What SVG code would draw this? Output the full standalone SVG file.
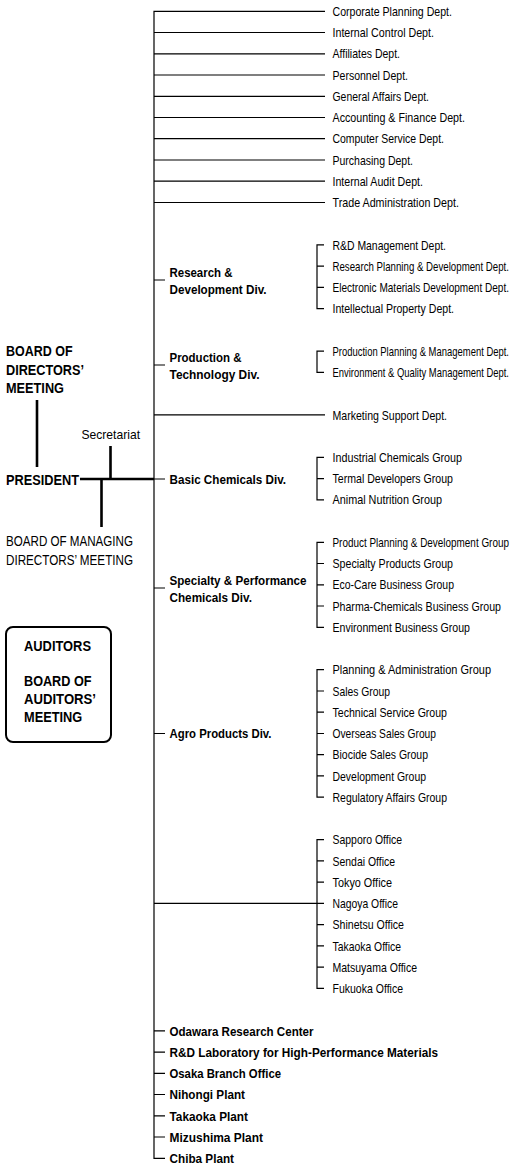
<svg xmlns="http://www.w3.org/2000/svg" width="528" height="1168" viewBox="0 0 528 1168">
<style>
.t{font-family:"Liberation Sans",Arial,sans-serif;font-size:13px;fill:#000}
.b{font-family:"Liberation Sans",Arial,sans-serif;font-size:13.5px;font-weight:bold;fill:#000}
.lb{font-family:"Liberation Sans",Arial,sans-serif;font-size:14px;font-weight:bold;fill:#000}
.lr{font-family:"Liberation Sans",Arial,sans-serif;font-size:14px;fill:#000}
.ln{stroke:#000;stroke-width:1.2;fill:none}
.thk{stroke:#000;stroke-width:2.6;fill:none}
.box{stroke:#000;stroke-width:2;fill:#fff}
</style>
<rect width="528" height="1168" fill="#fff"/>
<g id="connectors">
<path class="ln" d="M325,11.3H154V1158.3H165"/>
<path class="ln" d="M154,32.5H325M154,53.8H325M154,75H325M154,96.3H325M154,117.5H325M154,138.7H325M154,160H325M154,181.2H325M154,202.5H325M154,414.9H325M154,903.4H324"/>
<path class="ln" d="M154,280H165M154,365H165M154,479H165M154,588H165M154,733.5H165"/>
<path class="ln" d="M154,1030.8H165M154,1052.1H165M154,1073.3H165M154,1094.5H165M154,1115.8H165M154,1137H165"/>
<path class="ln" d="M324,244.9H317V308.7H324M317,266.2H324M317,287.4H324"/>
<path class="ln" d="M324,351.1H317V372.4H324"/>
<path class="ln" d="M324,457.3H317V499.8H324M317,478.6H324"/>
<path class="ln" d="M324,542.3H317V627.3H324M317,563.5H324M317,584.8H324M317,606H324"/>
<path class="ln" d="M324,669.7H317V797.2H324M317,691H324M317,712.2H324M317,733.5H324M317,754.7H324M317,775.9H324"/>
<path class="ln" d="M324,839.7H317V988.3H324M317,860.9H324M317,882.1H324M317,924.6H324M317,945.9H324M317,967.1H324"/>
<path class="thk" d="M37,400V467M80,479H154M110.5,446V479M101.5,479V527"/>
</g>
<g id="board-of-directors"><text class="lb" x="6" y="356" textLength="66.5" lengthAdjust="spacingAndGlyphs">BOARD OF</text><text class="lb" x="6" y="374.5" textLength="78" lengthAdjust="spacingAndGlyphs">DIRECTORS’</text><text class="lb" x="6" y="393" textLength="58" lengthAdjust="spacingAndGlyphs">MEETING</text></g>
<g id="president"><text class="lb" x="6" y="485" textLength="73" lengthAdjust="spacingAndGlyphs">PRESIDENT</text></g>
<g id="secretariat"><text class="t" x="81.5" y="438.5" textLength="58.5" lengthAdjust="spacingAndGlyphs">Secretariat</text></g>
<g id="board-of-managing"><text class="lr" x="6" y="546" textLength="127" lengthAdjust="spacingAndGlyphs">BOARD OF MANAGING</text><text class="lr" x="6" y="565" textLength="127" lengthAdjust="spacingAndGlyphs">DIRECTORS’ MEETING</text></g>
<g id="auditors"><rect class="box" x="6" y="627" width="105" height="115" rx="7"/><text class="lb" x="24" y="651" textLength="67" lengthAdjust="spacingAndGlyphs">AUDITORS</text><text class="lb" x="24" y="686" textLength="67.5" lengthAdjust="spacingAndGlyphs">BOARD OF</text><text class="lb" x="24" y="704" textLength="72" lengthAdjust="spacingAndGlyphs">AUDITORS’</text><text class="lb" x="24" y="722" textLength="58.3" lengthAdjust="spacingAndGlyphs">MEETING</text></g>
<g id="corporate-depts">
<text class="t" x="332.5" y="15.9" textLength="119.5" lengthAdjust="spacingAndGlyphs">Corporate Planning Dept.</text>
<text class="t" x="332.5" y="37.1" textLength="101.5" lengthAdjust="spacingAndGlyphs">Internal Control Dept.</text>
<text class="t" x="332.5" y="58.4" textLength="67.5" lengthAdjust="spacingAndGlyphs">Affiliates Dept.</text>
<text class="t" x="332.5" y="79.6" textLength="75.5" lengthAdjust="spacingAndGlyphs">Personnel Dept.</text>
<text class="t" x="332.5" y="100.9" textLength="96.5" lengthAdjust="spacingAndGlyphs">General Affairs Dept.</text>
<text class="t" x="332.5" y="122.1" textLength="132.5" lengthAdjust="spacingAndGlyphs">Accounting &amp; Finance Dept.</text>
<text class="t" x="332.5" y="143.3" textLength="111.5" lengthAdjust="spacingAndGlyphs">Computer Service Dept.</text>
<text class="t" x="332.5" y="164.6" textLength="80.5" lengthAdjust="spacingAndGlyphs">Purchasing Dept.</text>
<text class="t" x="332.5" y="185.8" textLength="90.5" lengthAdjust="spacingAndGlyphs">Internal Audit Dept.</text>
<text class="t" x="332.5" y="207.1" textLength="126.5" lengthAdjust="spacingAndGlyphs">Trade Administration Dept.</text>
</g>
<g id="rd-div">
<text class="b" x="169.5" y="276.8" textLength="63" lengthAdjust="spacingAndGlyphs">Research &amp;</text>
<text class="b" x="169.5" y="293.8" textLength="97" lengthAdjust="spacingAndGlyphs">Development Div.</text>
<text class="t" x="332.5" y="249.5" textLength="113.5" lengthAdjust="spacingAndGlyphs">R&amp;D Management Dept.</text>
<text class="t" transform="translate(332.5,270.8) scale(0.8,1)" x="0" y="0" textLength="220.6" lengthAdjust="spacingAndGlyphs">Research Planning &amp; Development Dept.</text>
<text class="t" transform="translate(332.5,292) scale(0.8,1)" x="0" y="0" textLength="220.6" lengthAdjust="spacingAndGlyphs">Electronic Materials Development Dept.</text>
<text class="t" x="332.5" y="313.3" textLength="121.5" lengthAdjust="spacingAndGlyphs">Intellectual Property Dept.</text>
</g>
<g id="production-div">
<text class="b" x="169.5" y="361.8" textLength="72" lengthAdjust="spacingAndGlyphs">Production &amp;</text>
<text class="b" x="169.5" y="378.8" textLength="90" lengthAdjust="spacingAndGlyphs">Technology Div.</text>
<text class="t" transform="translate(332.5,355.7) scale(0.8,1)" x="0" y="0" textLength="220.6" lengthAdjust="spacingAndGlyphs">Production Planning &amp; Management Dept.</text>
<text class="t" transform="translate(332.5,377) scale(0.8,1)" x="0" y="0" textLength="220.6" lengthAdjust="spacingAndGlyphs">Environment &amp; Quality Management Dept.</text>
</g>
<g id="marketing"><text class="t" x="332.5" y="419.5" textLength="114.5" lengthAdjust="spacingAndGlyphs">Marketing Support Dept.</text></g>
<g id="basic-div">
<text class="b" x="169.5" y="483.8" textLength="116.5" lengthAdjust="spacingAndGlyphs">Basic Chemicals Div.</text>
<text class="t" x="332.5" y="461.9" textLength="129.5" lengthAdjust="spacingAndGlyphs">Industrial Chemicals Group</text>
<text class="t" x="332.5" y="483.2" textLength="120.5" lengthAdjust="spacingAndGlyphs">Termal Developers Group</text>
<text class="t" x="332.5" y="504.4" textLength="109.5" lengthAdjust="spacingAndGlyphs">Animal Nutrition Group</text>
</g>
<g id="specialty-div">
<text class="b" x="169.5" y="584.8" textLength="137" lengthAdjust="spacingAndGlyphs">Specialty &amp; Performance</text>
<text class="b" x="169.5" y="601.8" textLength="82.5" lengthAdjust="spacingAndGlyphs">Chemicals Div.</text>
<text class="t" transform="translate(332.5,546.9) scale(0.8,1)" x="0" y="0" textLength="220.6" lengthAdjust="spacingAndGlyphs">Product Planning &amp; Development Group</text>
<text class="t" x="332.5" y="568.1" textLength="120.5" lengthAdjust="spacingAndGlyphs">Specialty Products Group</text>
<text class="t" x="332.5" y="589.4" textLength="121.5" lengthAdjust="spacingAndGlyphs">Eco-Care Business Group</text>
<text class="t" transform="translate(332.5,610.6) scale(0.8,1)" x="0" y="0" textLength="210.6" lengthAdjust="spacingAndGlyphs">Pharma-Chemicals Business Group</text>
<text class="t" x="332.5" y="631.9" textLength="137.5" lengthAdjust="spacingAndGlyphs">Environment Business Group</text>
</g>
<g id="agro-div">
<text class="b" x="169.5" y="738.3" textLength="102" lengthAdjust="spacingAndGlyphs">Agro Products Div.</text>
<text class="t" x="332.5" y="674.3" textLength="158.5" lengthAdjust="spacingAndGlyphs">Planning &amp; Administration Group</text>
<text class="t" x="332.5" y="695.6" textLength="57.5" lengthAdjust="spacingAndGlyphs">Sales Group</text>
<text class="t" x="332.5" y="716.8" textLength="114.5" lengthAdjust="spacingAndGlyphs">Technical Service Group</text>
<text class="t" x="332.5" y="738.1" textLength="103.5" lengthAdjust="spacingAndGlyphs">Overseas Sales Group</text>
<text class="t" x="332.5" y="759.3" textLength="95.5" lengthAdjust="spacingAndGlyphs">Biocide Sales Group</text>
<text class="t" x="332.5" y="780.5" textLength="93.5" lengthAdjust="spacingAndGlyphs">Development Group</text>
<text class="t" x="332.5" y="801.8" textLength="114.5" lengthAdjust="spacingAndGlyphs">Regulatory Affairs Group</text>
</g>
<g id="offices">
<text class="t" x="332.5" y="844.3" textLength="69.5" lengthAdjust="spacingAndGlyphs">Sapporo Office</text>
<text class="t" x="332.5" y="865.5" textLength="62.5" lengthAdjust="spacingAndGlyphs">Sendai Office</text>
<text class="t" x="332.5" y="886.7" textLength="59.5" lengthAdjust="spacingAndGlyphs">Tokyo Office</text>
<text class="t" x="332.5" y="908" textLength="65.5" lengthAdjust="spacingAndGlyphs">Nagoya Office</text>
<text class="t" x="332.5" y="929.2" textLength="71.5" lengthAdjust="spacingAndGlyphs">Shinetsu Office</text>
<text class="t" x="332.5" y="950.5" textLength="68.5" lengthAdjust="spacingAndGlyphs">Takaoka Office</text>
<text class="t" x="332.5" y="971.7" textLength="84.5" lengthAdjust="spacingAndGlyphs">Matsuyama Office</text>
<text class="t" x="332.5" y="992.9" textLength="70.5" lengthAdjust="spacingAndGlyphs">Fukuoka Office</text>
</g>
<g id="odawara"><text class="b" x="169.5" y="1035.6" textLength="144" lengthAdjust="spacingAndGlyphs">Odawara Research Center</text></g>
<g id="rd-lab"><text class="b" x="169.5" y="1056.9" textLength="268.5" lengthAdjust="spacingAndGlyphs">R&amp;D Laboratory for High-Performance Materials</text></g>
<g id="osaka"><text class="b" x="169.5" y="1078.1" textLength="111.5" lengthAdjust="spacingAndGlyphs">Osaka Branch Office</text></g>
<g id="nihongi"><text class="b" x="169.5" y="1099.3" textLength="75.5" lengthAdjust="spacingAndGlyphs">Nihongi Plant</text></g>
<g id="takaoka"><text class="b" x="169.5" y="1120.6" textLength="78.5" lengthAdjust="spacingAndGlyphs">Takaoka Plant</text></g>
<g id="mizushima"><text class="b" x="169.5" y="1141.8" textLength="93.5" lengthAdjust="spacingAndGlyphs">Mizushima Plant</text></g>
<g id="chiba"><text class="b" x="169.5" y="1163.1" textLength="64.5" lengthAdjust="spacingAndGlyphs">Chiba Plant</text></g>
</svg>
